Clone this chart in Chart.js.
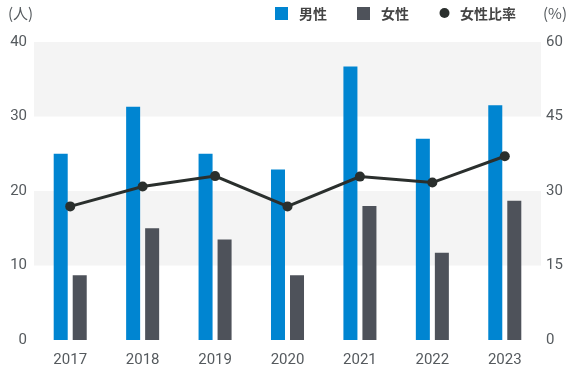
<!DOCTYPE html>
<html>
<head>
<meta charset="utf-8">
<script src="https://cdn.jsdelivr.net/npm/chart.js@4/dist/chart.umd.min.js"></script>
<style>
  html, body { margin: 0; padding: 0; background: #fff; }
  #wrap { width: 580px; height: 378px; position: relative; }
</style>
</head>
<body>
<div id="wrap"><canvas id="chart"></canvas></div>
<script>
// ---- data ----
const years = ['2017', '2018', '2019', '2020', '2021', '2022', '2023'];
const maleCounts = [25, 31.3, 25, 22.9, 36.7, 27, 31.5];
const femaleCounts = [8.7, 15, 13.5, 8.7, 18, 11.7, 18.7];
const femaleRatio = [26.9, 30.9, 33, 26.9, 32.9, 31.7, 37];
const leftTicks = [0, 10, 20, 30, 40];
const rightTicks = [0, 15, 30, 45, 60];
const shadedBands = [[10, 20], [30, 40]];

const BLUE = '#0085d1';
const GRAY = '#4e525a';
const LINE = '#2a2f2d';
const TICK = '#555a5e';
const NUM_FONT = 'Roboto, "Noto Sans", sans-serif';
const JP_FONT = '"Noto Sans CJK JP", "Noto Sans", sans-serif';

// light gray background bands behind the bars
const bandPlugin = {
  id: 'bands',
  beforeDatasetsDraw(chart) {
    const { ctx, chartArea } = chart;
    const y = chart.scales.y;
    ctx.save();
    ctx.fillStyle = '#f4f4f4';
    shadedBands.forEach(b => {
      const top = y.getPixelForValue(b[1]);
      const bottom = y.getPixelForValue(b[0]);
      ctx.fillRect(chartArea.left, top, chartArea.right - chartArea.left, bottom - top);
    });
    ctx.restore();
  }
};

// unit labels + legend row on top
const headerPlugin = {
  id: 'header',
  afterDraw(chart) {
    const { ctx } = chart;
    const ds = chart.data.datasets;
    const midY = 13;
    ctx.save();
    ctx.textBaseline = 'middle';

    ctx.fillStyle = TICK;
    ctx.font = '15px ' + JP_FONT;
    ctx.textAlign = 'left';
    ctx.fillText('(人)', 8, midY);
    ctx.fillText('(%)', 543, midY);

    ctx.font = 'bold 14px ' + JP_FONT;

    ctx.fillStyle = ds[0].backgroundColor;
    ctx.fillRect(275, 7, 13, 13);
    ctx.fillStyle = '#444';
    ctx.fillText(ds[0].label, 299, midY + 0.5);

    ctx.fillStyle = ds[1].backgroundColor;
    ctx.fillRect(357, 7, 13, 13);
    ctx.fillStyle = '#444';
    ctx.fillText(ds[1].label, 381, midY + 0.5);

    ctx.fillStyle = ds[2].pointBackgroundColor;
    ctx.beginPath();
    ctx.arc(444.5, midY, 5, 0, Math.PI * 2);
    ctx.fill();
    ctx.fillStyle = '#444';
    ctx.fillText(ds[2].label, 460, midY + 0.5);

    ctx.restore();
  }
};

new Chart(document.getElementById('chart'), {
  type: 'bar',
  data: {
    labels: years,
    datasets: [
      {
        label: '男性',
        data: maleCounts,
        backgroundColor: BLUE,
        yAxisID: 'y',
        order: 1,
        categoryPercentage: 0.525,
        barPercentage: 0.737
      },
      {
        label: '女性',
        data: femaleCounts,
        backgroundColor: GRAY,
        yAxisID: 'y',
        order: 1,
        categoryPercentage: 0.525,
        barPercentage: 0.737
      },
      {
        type: 'line',
        label: '女性比率',
        data: femaleRatio,
        yAxisID: 'y1',
        borderColor: LINE,
        borderWidth: 3,
        pointRadius: 5,
        pointBackgroundColor: LINE,
        pointBorderColor: LINE,
        pointBorderWidth: 0,
        tension: 0,
        order: 0
      }
    ]
  },
  options: {
    responsive: true,
    maintainAspectRatio: false,
    animation: false,
    layout: { padding: { top: 42, bottom: -2, left: 0, right: 0 } },
    plugins: {
      legend: { display: false },
      tooltip: { enabled: false }
    },
    scales: {
      x: {
        grid: { display: false, drawTicks: false },
        border: { display: false },
        ticks: { color: TICK, font: { family: NUM_FONT, size: 15 }, padding: 11 }
      },
      y: {
        position: 'left',
        min: 0, max: 40,
        afterBuildTicks: s => { s.ticks = leftTicks.map(v => ({ value: v })); },
        afterFit: s => { s.width = 34; },
        grid: { display: false, drawTicks: false },
        border: { display: false },
        ticks: { color: TICK, font: { family: NUM_FONT, size: 15 }, padding: 7 }
      },
      y1: {
        position: 'right',
        min: 0, max: 60,
        afterBuildTicks: s => { s.ticks = rightTicks.map(v => ({ value: v })); },
        afterFit: s => { s.width = 39; },
        grid: { display: false, drawTicks: false },
        border: { display: false },
        ticks: { color: TICK, font: { family: NUM_FONT, size: 15 }, padding: 5 }
      }
    }
  },
  plugins: [bandPlugin, headerPlugin]
});
</script>
</body>
</html>
